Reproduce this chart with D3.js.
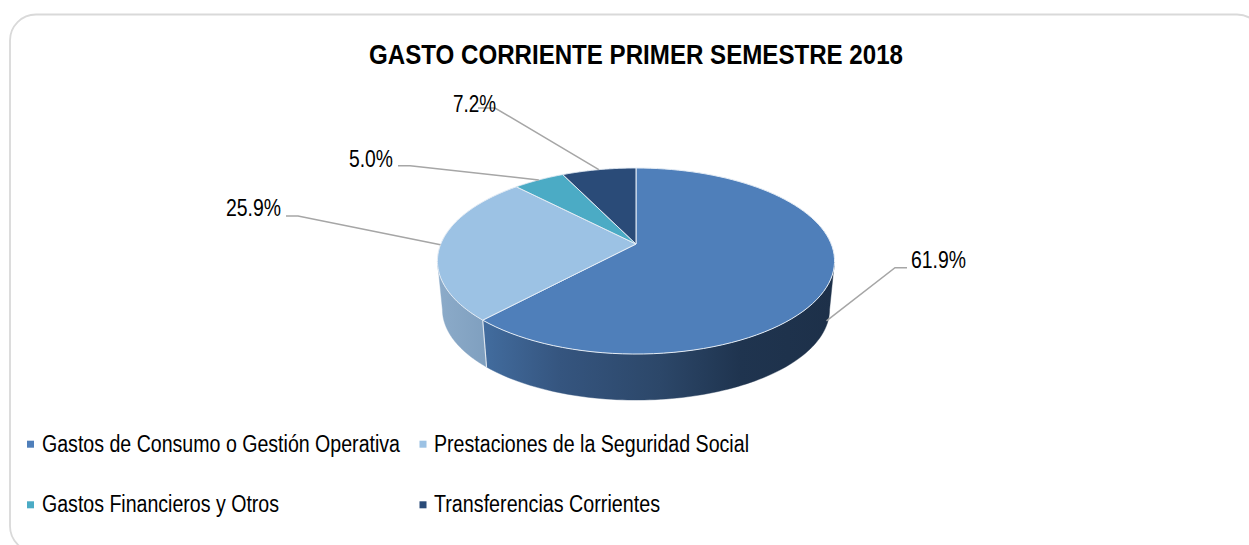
<!DOCTYPE html>
<html><head><meta charset="utf-8">
<script src="https://cdn.jsdelivr.net/npm/d3@7"></script>
<style>html,body{margin:0;padding:0;background:#fff;overflow:hidden}svg{display:block}text{font-family:"Liberation Sans",Arial,sans-serif;fill:#000}</style>
</head><body><div id="chart"></div>
<script>
const titleText = "GASTO CORRIENTE PRIMER SEMESTRE 2018";
const categories = ["Gastos de Consumo o Gestión Operativa","Prestaciones de la Seguridad Social","Gastos Financieros y Otros","Transferencias Corrientes"];
const values = [61.9, 25.9, 5.0, 7.2];
const labels = ["61.9%","25.9%","5.0%","7.2%"];
const colors = ["#4f7fba","#9cc2e4","#4babc5","#2a4b78"];

const W = 1249, H = 545;
const svg = d3.select("#chart").append("svg").attr("width",W).attr("height",H);
const defs = svg.append("defs");
svg.append("rect").attr("width",W).attr("height",H).attr("fill","#fff");
svg.append("rect").attr("x",10).attr("y",14.5).attr("width",1253).attr("height",537.5).attr("rx",26)
  .attr("fill","#fff").attr("stroke","#d9d9d9").attr("stroke-width",1.8);

svg.append("text").attr("x",636).attr("y",63.5).attr("text-anchor","middle")
  .attr("font-size",27).attr("font-weight",700)
  .attr("textLength",534).attr("lengthAdjust","spacingAndGlyphs").text(titleText);

// perspective projection of the pie disc
const cx = 636, tilt = 0.183;
function proj(theta, r, apexY, k){
  const u = Math.sin(theta)*r, v = -Math.cos(theta)*r, d = 1 - tilt*v;
  return [cx + 195.2*k*u/d, apexY + 89.9*k*v/d];
}
const top_ = (t,r=1)=>proj(t,r,244,1);
const base_ = (t,r=1)=>proj(t,r,292.8,0.975);
const line = d3.line();
const arcs = d3.pie().sort(null).value(d=>d)(values);
const samples = (a,b)=>d3.range(0,91).map(i=>a+(b-a)*i/90);

// gradients for the side wall
function grad(id,stops){
  const g = defs.append("linearGradient").attr("id",id).attr("gradientUnits","userSpaceOnUse")
    .attr("x1",stops[0][0]).attr("x2",stops[stops.length-1][0]).attr("y1",0).attr("y2",0);
  const x0=stops[0][0], x1=stops[stops.length-1][0];
  stops.forEach(s=>g.append("stop").attr("offset",(s[0]-x0)/(x1-x0)).attr("stop-color",s[1]));
}
grad("wallA",[[484,"#426c9e"],[560,"#35557f"],[660,"#2c4769"],[740,"#1f344f"],[834,"#1d3049"]]);
grad("wallB",[[438,"#8cabc9"],[487,"#7f9fbf"]]);

// silhouette angles: where the projected rim reaches its widest points
const tangentR = Math.PI - Math.acos(tilt), tangentL = Math.PI + Math.acos(tilt), split = arcs[0].endAngle;
function wall(a,b,fill){
  const s = samples(a,b);
  svg.append("path").attr("d",line(s.map(t=>top_(t)).concat(s.slice().reverse().map(t=>base_(t))))+"Z")
    .attr("fill",fill).attr("stroke",fill).attr("stroke-width",.4);
}
wall(tangentR,split,"url(#wallA)");
wall(split,tangentL,"url(#wallB)");
svg.append("path").attr("d",line([top_(split),base_(split)])).attr("stroke","#dfe6ee").attr("stroke-width",1.1).attr("fill","none");

// top face
arcs.forEach((a,i)=>{
  const pts = samples(a.startAngle,a.endAngle).map(t=>top_(t));
  pts.unshift([cx,244]);
  svg.append("path").attr("d",line(pts)+"Z").attr("fill",colors[i])
    .attr("stroke","#e4ecf5").attr("stroke-width",1).attr("stroke-linejoin","round");
});

// leaders and labels
const labelPos = [[911,268],[226,216],[349,166.7],[453,111.7]];
const labelW = [55,55,44,43];
const elbows = [[[907,267.7],[895,267.7]],[[286,216],[298,216]],[[398,165.7],[410,165.7]],[[478,108],[495,108]]];
arcs.forEach((a,i)=>{
  const mid=(a.startAngle+a.endAngle)/2;
  let end = top_(mid);
  if(i===0){ const b=base_(mid); end=[end[0]+(b[0]-end[0])*.87,end[1]+(b[1]-end[1])*.87]; }
  svg.append("path").attr("d",line([...elbows[i],end])).attr("fill","none").attr("stroke","#a6a6a6").attr("stroke-width",1.5);
});
arcs.forEach((a,i)=>{
  svg.append("text").attr("x",labelPos[i][0]).attr("y",labelPos[i][1]).attr("font-size",23)
    .attr("textLength",labelW[i]).attr("lengthAdjust","spacingAndGlyphs").text(labels[i]);
});

// legend
const legX=[27,419.5], legTextX=[42,434], legY=[451.7,512.3], legW=[358,315,237,226];
categories.forEach((c,i)=>{
  const col=i%2,row=i>>1;
  svg.append("rect").attr("x",legX[col]).attr("y",legY[row]-11).attr("width",7).attr("height",7).attr("fill",colors[i]);
  svg.append("text").attr("x",legTextX[col]).attr("y",legY[row]).attr("font-size",23)
    .attr("textLength",legW[i]).attr("lengthAdjust","spacingAndGlyphs").text(c);
});
</script></body></html>
